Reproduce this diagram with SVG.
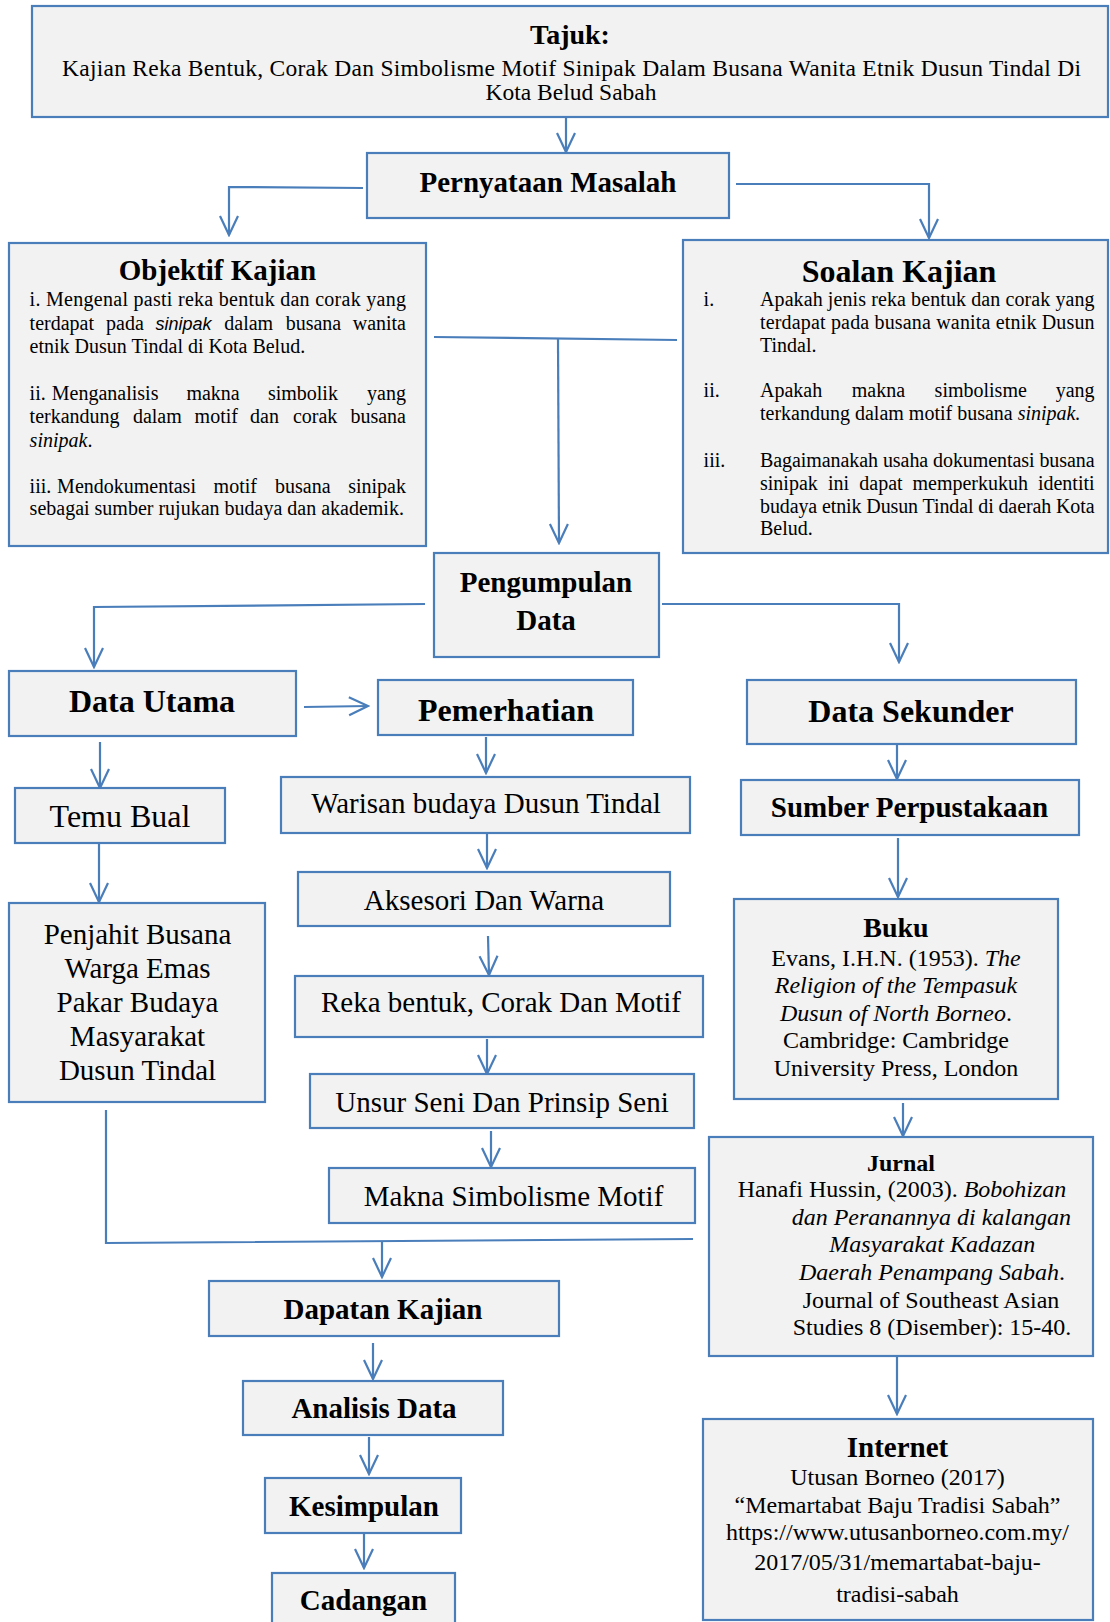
<svg xmlns="http://www.w3.org/2000/svg" width="1110" height="1622" viewBox="0 0 1110 1622">
<style>
.box{fill:#f2f2f2;stroke:#4a7ebb;stroke-width:2.2}
.c{fill:none;stroke:#4a7ebb;stroke-width:2.2}
text{font-family:"Liberation Serif","Times New Roman",serif;fill:#000}
.b{font-weight:bold}
.m{text-anchor:middle}
.e{text-anchor:end}
.i{font-style:italic}
.s20{font-size:20px}
.s24{font-size:24px}
.s29{font-size:29px}
.s32{font-size:32px}
.sans{font-family:"Liberation Sans",Arial,sans-serif;font-style:italic;font-size:18px}
</style>
<defs>
<marker id="a" viewBox="-21 -11 23 22" markerWidth="23" markerHeight="22" refX="0" refY="0" markerUnits="userSpaceOnUse" orient="auto">
<path d="M-19,-9 L0,0 L-19,9" fill="none" stroke="#4a7ebb" stroke-width="2.2"/>
</marker>
</defs>
<rect width="1110" height="1622" fill="#fff"/>

<g id="connectors">
<path class="c" d="M566,117 L566,152" marker-end="url(#a)"/>
<path class="c" d="M363,188 L229,187 L229,235" marker-end="url(#a)"/>
<path class="c" d="M736,184 L929,184 L929,238" marker-end="url(#a)"/>
<path class="c" d="M434,337 L677,340"/>
<path class="c" d="M558,339 L559,543" marker-end="url(#a)"/>
<path class="c" d="M425,604 L94,607 L94,667" marker-end="url(#a)"/>
<path class="c" d="M662,604 L899,604 L899,662" marker-end="url(#a)"/>
<path class="c" d="M304,707 L368,706" marker-end="url(#a)"/>
<path class="c" d="M100,742 L100,788" marker-end="url(#a)"/>
<path class="c" d="M486,737 L486,773" marker-end="url(#a)"/>
<path class="c" d="M897,744 L897,779" marker-end="url(#a)"/>
<path class="c" d="M99,843 L99,902" marker-end="url(#a)"/>
<path class="c" d="M487,833 L487,868" marker-end="url(#a)"/>
<path class="c" d="M488,936 L489,975" marker-end="url(#a)"/>
<path class="c" d="M487,1039 L487,1074" marker-end="url(#a)"/>
<path class="c" d="M491,1131 L491,1167" marker-end="url(#a)"/>
<path class="c" d="M898,838 L898,897" marker-end="url(#a)"/>
<path class="c" d="M903,1103 L903,1136" marker-end="url(#a)"/>
<path class="c" d="M106,1110 L106,1243 L693,1239"/>
<path class="c" d="M382,1242 L382,1277" marker-end="url(#a)"/>
<path class="c" d="M373,1343 L373,1379" marker-end="url(#a)"/>
<path class="c" d="M369,1437 L369,1474" marker-end="url(#a)"/>
<path class="c" d="M364,1533 L364,1568" marker-end="url(#a)"/>
<path class="c" d="M897,1356 L897,1414" marker-end="url(#a)"/>
</g>

<g id="tajuk">
<rect class="box" x="32" y="6" width="1076" height="111"/>
<text class="b m" x="570" y="44" font-size="28">Tajuk:</text>
<text x="62" y="76" font-size="23.5" textLength="1019" lengthAdjust="spacing">Kajian Reka Bentuk, Corak Dan Simbolisme Motif Sinipak Dalam Busana Wanita Etnik Dusun Tindal Di</text>
<text class="m" x="571" y="100" font-size="23.5">Kota Belud Sabah</text>
</g>

<g id="pernyataan">
<rect class="box" x="367" y="153" width="362" height="65"/>
<text class="b m s29" x="548" y="192">Pernyataan Masalah</text>
</g>

<g id="objektif">
<rect class="box" x="9" y="243" width="417" height="303"/>
<text class="b m s29" x="217.5" y="280">Objektif Kajian</text>
<text class="s20" x="29.6" y="306" textLength="376.4" lengthAdjust="spacing">i. Mengenal pasti reka bentuk dan corak yang</text>
<text class="s20" y="330"><tspan x="29.6">terdapat</tspan><tspan x="106">pada</tspan><tspan x="155.4" class="sans">sinipak</tspan><tspan x="224.3">dalam</tspan><tspan x="285.7">busana</tspan><tspan x="406" class="e">wanita</tspan></text>
<text class="s20" x="29.6" y="353">etnik Dusun Tindal di Kota Belud.</text>
<text class="s20" y="400"><tspan x="29.6">ii.</tspan><tspan x="51.8">Menganalisis</tspan><tspan x="186.4">makna</tspan><tspan x="267.9">simbolik</tspan><tspan x="406" class="e">yang</tspan></text>
<text class="s20" y="423"><tspan x="29.6">terkandung</tspan><tspan x="132.9">dalam</tspan><tspan x="194.6">motif</tspan><tspan x="250">dan</tspan><tspan x="292.9">corak</tspan><tspan x="406" class="e">busana</tspan></text>
<text class="s20" x="29.6" y="447"><tspan class="i">sinipak</tspan>.</text>
<text class="s20" y="493"><tspan x="29.6">iii.</tspan><tspan x="57.1">Mendokumentasi</tspan><tspan x="213.6">motif</tspan><tspan x="275">busana</tspan><tspan x="406" class="e">sinipak</tspan></text>
<text class="s20" x="29.6" y="515">sebagai sumber rujukan budaya dan akademik.</text>
</g>

<g id="soalan">
<rect class="box" x="683" y="240" width="425" height="313"/>
<text class="b m s32" x="899" y="282">Soalan Kajian</text>
<text class="s20" x="703.6" y="306">i.</text>
<text class="s20" x="760" y="306" textLength="334.6" lengthAdjust="spacing">Apakah jenis reka bentuk dan corak yang</text>
<text class="s20" x="760" y="329" textLength="334.6" lengthAdjust="spacing">terdapat pada busana wanita etnik Dusun</text>
<text class="s20" x="760" y="352">Tindal.</text>
<text class="s20" x="703.6" y="397">ii.</text>
<text class="s20" y="397"><tspan x="760">Apakah</tspan><tspan x="851.8">makna</tspan><tspan x="934.6">simbolisme</tspan><tspan x="1094.6" class="e">yang</tspan></text>
<text class="s20" x="760" y="420">terkandung dalam motif busana <tspan class="i">sinipak.</tspan></text>
<text class="s20" x="703.6" y="467">iii.</text>
<text class="s20" x="760" y="467" textLength="334.6" lengthAdjust="spacing">Bagaimanakah usaha dokumentasi busana</text>
<text class="s20" y="490"><tspan x="760">sinipak</tspan><tspan x="827.9">ini</tspan><tspan x="859.3">dapat</tspan><tspan x="912.5">memperkukuh</tspan><tspan x="1094.6" class="e">identiti</tspan></text>
<text class="s20" x="760" y="513" textLength="334.6" lengthAdjust="spacing">budaya etnik Dusun Tindal di daerah Kota</text>
<text class="s20" x="760" y="535">Belud.</text>
</g>

<g id="pengumpulan">
<rect class="box" x="434" y="553" width="225" height="104"/>
<text class="b m s29" x="546" y="592">Pengumpulan</text>
<text class="b m s29" x="546" y="630">Data</text>
</g>

<g id="dataUtama">
<rect class="box" x="9" y="671" width="287" height="65"/>
<text class="b m s32" x="152" y="712">Data Utama</text>
</g>

<g id="pemerhatian">
<rect class="box" x="378" y="680" width="255" height="55"/>
<text class="b m s32" x="506" y="721">Pemerhatian</text>
</g>

<g id="dataSekunder">
<rect class="box" x="747" y="680" width="329" height="64"/>
<text class="b m s32" x="911" y="722">Data Sekunder</text>
</g>

<g id="temuBual">
<rect class="box" x="15" y="788" width="210" height="55"/>
<text class="m s32" x="120" y="827">Temu Bual</text>
</g>

<g id="warisan">
<rect class="box" x="281" y="777" width="409" height="56"/>
<text class="m s29" x="486" y="813">Warisan budaya Dusun Tindal</text>
</g>

<g id="sumber">
<rect class="box" x="741" y="780" width="338" height="55"/>
<text class="b m s29" x="909.5" y="817">Sumber Perpustakaan</text>
</g>

<g id="penjahit">
<rect class="box" x="9" y="903" width="256" height="199"/>
<text class="m s29" x="137.5" y="944">Penjahit Busana</text>
<text class="m s29" x="137.5" y="978">Warga Emas</text>
<text class="m s29" x="137.5" y="1012">Pakar Budaya</text>
<text class="m s29" x="137.5" y="1046">Masyarakat</text>
<text class="m s29" x="137.5" y="1080">Dusun Tindal</text>
</g>

<g id="aksesori">
<rect class="box" x="298" y="872" width="372" height="54"/>
<text class="m s29" x="484" y="910">Aksesori Dan Warna</text>
</g>

<g id="reka">
<rect class="box" x="295" y="976" width="408" height="61"/>
<text class="m s29" x="501" y="1012">Reka bentuk, Corak Dan Motif</text>
</g>

<g id="unsur">
<rect class="box" x="310" y="1074" width="384" height="54"/>
<text class="m s29" x="502" y="1112">Unsur Seni Dan Prinsip Seni</text>
</g>

<g id="makna">
<rect class="box" x="329" y="1168" width="366" height="55"/>
<text class="m s29" x="513.5" y="1206">Makna Simbolisme Motif</text>
</g>

<g id="buku">
<rect class="box" x="734" y="899" width="324" height="200"/>
<text class="b m" font-size="28" x="896" y="937">Buku</text>
<text class="m s24" x="896" y="966">Evans, I.H.N. (1953). <tspan class="i">The</tspan></text>
<text class="m s24 i" x="896" y="993">Religion of the Tempasuk</text>
<text class="m s24" x="896" y="1021"><tspan class="i">Dusun of North Borneo</tspan>.</text>
<text class="m s24" x="896" y="1048">Cambridge: Cambridge</text>
<text class="m s24" x="896" y="1076">University Press, London</text>
</g>

<g id="jurnal">
<rect class="box" x="709" y="1137" width="384" height="219"/>
<text class="b m s24" x="901" y="1171">Jurnal</text>
<text class="s24" x="737.7" y="1197">Hanafi Hussin, (2003). <tspan class="i">Bobohizan</tspan></text>
<text class="s24 i" x="791.7" y="1225">dan Peranannya di kalangan</text>
<text class="s24 i" x="829.3" y="1252">Masyarakat Kadazan</text>
<text class="s24" x="799" y="1280"><tspan class="i">Daerah Penampang Sabah</tspan>.</text>
<text class="s24" x="802.7" y="1308">Journal of Southeast Asian</text>
<text class="s24" x="792.7" y="1335">Studies 8 (Disember): 15-40.</text>
</g>

<g id="dapatan">
<rect class="box" x="209" y="1281" width="350" height="55"/>
<text class="b m s29" x="383" y="1319">Dapatan Kajian</text>
</g>

<g id="analisis">
<rect class="box" x="243" y="1381" width="260" height="54"/>
<text class="b m s29" x="374" y="1418">Analisis Data</text>
</g>

<g id="internet">
<rect class="box" x="703" y="1419" width="390" height="201"/>
<text class="b m s29" x="897.5" y="1457">Internet</text>
<text class="m s24" x="897.5" y="1485">Utusan Borneo (2017)</text>
<text class="m s24" x="897.5" y="1513">“Memartabat Baju Tradisi Sabah”</text>
<text class="m s24" x="897.5" y="1540">https://www.utusanborneo.com.my/</text>
<text class="m s24" x="897.5" y="1570">2017/05/31/memartabat-baju-</text>
<text class="m s24" x="897.5" y="1602">tradisi-sabah</text>
</g>

<g id="kesimpulan">
<rect class="box" x="265" y="1478" width="196" height="55"/>
<text class="b m s29" x="364" y="1516">Kesimpulan</text>
</g>

<g id="cadangan">
<rect class="box" x="272" y="1573" width="183" height="60"/>
<text class="b m s29" x="363.5" y="1610">Cadangan</text>
</g>
</svg>
